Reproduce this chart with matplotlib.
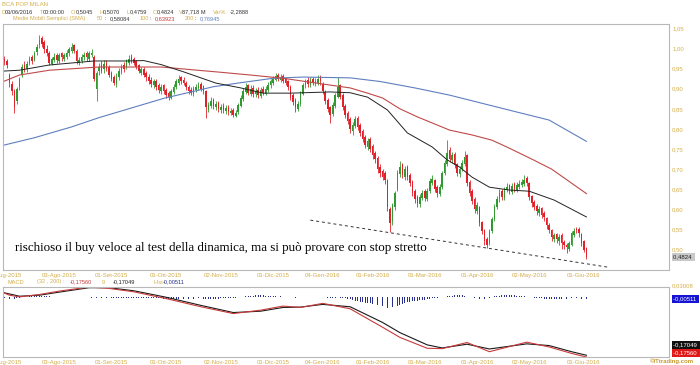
import numpy as np
import pandas as pd
import matplotlib
matplotlib.use("Agg")
import matplotlib.pyplot as plt

# BCA POP MILAN - giornaliero, dal 02/07/2015 al 03/06/2016
holidays = ["2015-12-24", "2015-12-25", "2015-12-31", "2016-01-01", "2016-03-25", "2016-03-28"]
days = pd.bdate_range("2015-07-02", "2016-06-03")
days = days[~days.isin(pd.to_datetime(holidays))]

opens = [0.975, 0.970, 0.935, 0.912, 0.895, 0.870, 0.905, 0.935, 0.960, 0.948,
         0.965, 0.978, 0.972, 0.992, 1.008, 1.025, 1.015, 1.000, 0.990, 0.962,
         0.972, 0.985, 0.970, 0.988, 0.975, 0.980, 0.988, 0.995, 1.008, 0.995,
         0.965, 0.970, 0.978, 0.990, 0.975, 0.985, 0.980, 0.900, 0.945, 0.958,
         0.948, 0.965, 0.955, 0.940, 0.928, 0.912, 0.928, 0.942, 0.958, 0.955,
         0.965, 0.980, 0.975, 0.968, 0.958, 0.940, 0.950, 0.938, 0.930, 0.922,
         0.910, 0.920, 0.910, 0.895, 0.908, 0.898, 0.890, 0.878, 0.892, 0.905,
         0.915, 0.928, 0.922, 0.915, 0.905, 0.898, 0.888, 0.898, 0.902, 0.912,
         0.905, 0.895, 0.848, 0.858, 0.872, 0.855, 0.865, 0.848, 0.858, 0.845,
         0.855, 0.840, 0.848, 0.832, 0.842, 0.858, 0.875, 0.892, 0.908, 0.888,
         0.902, 0.886, 0.898, 0.882, 0.900, 0.888, 0.898, 0.908, 0.915, 0.922,
         0.935, 0.922, 0.932, 0.925, 0.918, 0.905, 0.885, 0.872, 0.850, 0.862,
         0.888, 0.908, 0.922, 0.910, 0.925, 0.912, 0.915, 0.930, 0.912, 0.892,
         0.872, 0.855, 0.838, 0.858, 0.880, 0.908, 0.885, 0.858, 0.840, 0.825,
         0.795, 0.808, 0.828, 0.810, 0.795, 0.780, 0.755, 0.775, 0.758, 0.740,
         0.728, 0.705, 0.695, 0.690, 0.672, 0.600, 0.570, 0.605, 0.650, 0.688,
         0.712, 0.680, 0.705, 0.685, 0.668, 0.645, 0.630, 0.612, 0.628, 0.645,
         0.625, 0.645, 0.665, 0.672, 0.655, 0.638, 0.655, 0.690, 0.712, 0.748,
         0.722, 0.738, 0.712, 0.688, 0.700, 0.712, 0.735, 0.668, 0.645, 0.625,
         0.595, 0.605, 0.568, 0.548, 0.525, 0.515, 0.545, 0.575, 0.605, 0.625,
         0.645, 0.628, 0.648, 0.660, 0.642, 0.662, 0.648, 0.655, 0.660, 0.662,
         0.678, 0.665, 0.632, 0.618, 0.608, 0.590, 0.602, 0.590, 0.578, 0.562,
         0.548, 0.525, 0.538, 0.520, 0.535, 0.518, 0.512, 0.502, 0.512, 0.535,
         0.550, 0.552, 0.538, 0.520, 0.5045]
highs = [0.982, 0.975, 0.940, 0.920, 0.900, 0.905, 0.930, 0.962, 0.968, 0.968,
         0.982, 0.985, 0.995, 1.012, 1.034, 1.030, 1.020, 1.008, 0.995, 0.980,
         0.988, 0.990, 0.990, 0.992, 0.990, 0.996, 1.005, 1.014, 1.012, 1.000,
         0.980, 0.986, 0.992, 0.995, 0.994, 0.998, 0.985, 0.945, 0.965, 0.968,
         0.972, 0.972, 0.960, 0.945, 0.935, 0.938, 0.952, 0.962, 0.966, 0.975,
         0.984, 0.986, 0.980, 0.972, 0.962, 0.955, 0.955, 0.944, 0.936, 0.928,
         0.925, 0.925, 0.915, 0.912, 0.912, 0.903, 0.895, 0.900, 0.912, 0.925,
         0.934, 0.932, 0.928, 0.920, 0.910, 0.905, 0.906, 0.912, 0.917, 0.916,
         0.910, 0.898, 0.868, 0.880, 0.878, 0.870, 0.870, 0.862, 0.864, 0.860,
         0.860, 0.852, 0.852, 0.846, 0.865, 0.884, 0.902, 0.914, 0.912, 0.908,
         0.908, 0.902, 0.904, 0.905, 0.906, 0.906, 0.916, 0.925, 0.932, 0.940,
         0.940, 0.936, 0.936, 0.930, 0.922, 0.908, 0.890, 0.876, 0.870, 0.895,
         0.915, 0.925, 0.928, 0.930, 0.930, 0.926, 0.933, 0.934, 0.916, 0.896,
         0.876, 0.858, 0.866, 0.890, 0.930, 0.912, 0.890, 0.862, 0.845, 0.830,
         0.818, 0.832, 0.832, 0.815, 0.800, 0.785, 0.778, 0.780, 0.762, 0.745,
         0.732, 0.712, 0.700, 0.695, 0.675, 0.605, 0.615, 0.646, 0.698, 0.720,
         0.716, 0.708, 0.710, 0.690, 0.672, 0.650, 0.635, 0.638, 0.648, 0.650,
         0.652, 0.678, 0.685, 0.676, 0.660, 0.662, 0.696, 0.722, 0.772, 0.755,
         0.742, 0.742, 0.716, 0.708, 0.722, 0.745, 0.738, 0.672, 0.650, 0.630,
         0.618, 0.608, 0.572, 0.552, 0.530, 0.550, 0.580, 0.612, 0.632, 0.650,
         0.650, 0.656, 0.665, 0.664, 0.665, 0.668, 0.668, 0.672, 0.675, 0.685,
         0.684, 0.668, 0.636, 0.622, 0.612, 0.608, 0.606, 0.595, 0.582, 0.566,
         0.552, 0.542, 0.542, 0.538, 0.540, 0.524, 0.516, 0.522, 0.546, 0.553,
         0.555, 0.556, 0.540, 0.524, 0.5070]
lows = [0.960, 0.952, 0.905, 0.885, 0.840, 0.862, 0.898, 0.930, 0.942, 0.942,
        0.958, 0.962, 0.968, 0.985, 1.002, 1.005, 0.990, 0.982, 0.958, 0.958,
        0.966, 0.965, 0.965, 0.970, 0.970, 0.975, 0.982, 0.990, 0.988, 0.962,
        0.958, 0.965, 0.972, 0.970, 0.970, 0.980, 0.918, 0.870, 0.935, 0.938,
        0.940, 0.944, 0.928, 0.918, 0.908, 0.905, 0.922, 0.936, 0.942, 0.950,
        0.960, 0.965, 0.958, 0.948, 0.938, 0.934, 0.928, 0.920, 0.912, 0.905,
        0.903, 0.898, 0.890, 0.888, 0.886, 0.878, 0.872, 0.874, 0.888, 0.900,
        0.910, 0.912, 0.908, 0.898, 0.888, 0.884, 0.882, 0.892, 0.896, 0.894,
        0.888, 0.827, 0.842, 0.852, 0.850, 0.848, 0.843, 0.840, 0.840, 0.838,
        0.835, 0.834, 0.830, 0.830, 0.838, 0.854, 0.870, 0.888, 0.884, 0.882,
        0.880, 0.880, 0.878, 0.878, 0.884, 0.884, 0.893, 0.903, 0.910, 0.918,
        0.920, 0.916, 0.914, 0.908, 0.898, 0.872, 0.860, 0.842, 0.845, 0.858,
        0.884, 0.902, 0.905, 0.905, 0.908, 0.906, 0.910, 0.910, 0.888, 0.862,
        0.842, 0.815, 0.832, 0.852, 0.876, 0.874, 0.848, 0.828, 0.812, 0.790,
        0.785, 0.802, 0.798, 0.782, 0.768, 0.752, 0.748, 0.742, 0.725, 0.715,
        0.690, 0.680, 0.672, 0.662, 0.595, 0.543, 0.560, 0.598, 0.645, 0.680,
        0.678, 0.674, 0.672, 0.658, 0.632, 0.615, 0.605, 0.606, 0.622, 0.620,
        0.620, 0.640, 0.660, 0.642, 0.630, 0.632, 0.650, 0.685, 0.708, 0.718,
        0.715, 0.702, 0.682, 0.680, 0.695, 0.708, 0.658, 0.632, 0.612, 0.590,
        0.588, 0.558, 0.538, 0.512, 0.504, 0.510, 0.540, 0.570, 0.600, 0.618,
        0.622, 0.624, 0.642, 0.638, 0.638, 0.644, 0.643, 0.650, 0.655, 0.658,
        0.658, 0.622, 0.606, 0.598, 0.585, 0.584, 0.578, 0.570, 0.552, 0.540,
        0.520, 0.518, 0.515, 0.512, 0.500, 0.500, 0.492, 0.496, 0.508, 0.530,
        0.540, 0.532, 0.508, 0.494, 0.4759]
closes = [0.968, 0.960, 0.915, 0.895, 0.855, 0.900, 0.925, 0.955, 0.950, 0.962,
          0.975, 0.970, 0.990, 1.005, 1.020, 1.012, 0.998, 0.990, 0.965, 0.975,
          0.980, 0.972, 0.985, 0.978, 0.983, 0.990, 0.998, 1.005, 0.995, 0.968,
          0.972, 0.980, 0.985, 0.978, 0.988, 0.990, 0.925, 0.938, 0.955, 0.945,
          0.962, 0.950, 0.935, 0.925, 0.915, 0.930, 0.945, 0.955, 0.950, 0.968,
          0.975, 0.972, 0.965, 0.955, 0.945, 0.948, 0.935, 0.928, 0.920, 0.912,
          0.918, 0.905, 0.898, 0.905, 0.895, 0.885, 0.880, 0.895, 0.905, 0.918,
          0.925, 0.920, 0.915, 0.905, 0.895, 0.890, 0.900, 0.905, 0.910, 0.900,
          0.895, 0.855, 0.860, 0.870, 0.858, 0.862, 0.850, 0.855, 0.848, 0.852,
          0.842, 0.845, 0.835, 0.840, 0.860, 0.878, 0.895, 0.905, 0.890, 0.900,
          0.888, 0.895, 0.885, 0.898, 0.890, 0.900, 0.910, 0.918, 0.925, 0.932,
          0.925, 0.930, 0.920, 0.915, 0.905, 0.880, 0.868, 0.855, 0.862, 0.890,
          0.910, 0.918, 0.912, 0.922, 0.915, 0.920, 0.925, 0.918, 0.895, 0.870,
          0.850, 0.835, 0.860, 0.885, 0.905, 0.880, 0.855, 0.835, 0.820, 0.800,
          0.810, 0.825, 0.805, 0.790, 0.775, 0.760, 0.770, 0.750, 0.735, 0.725,
          0.700, 0.690, 0.680, 0.672, 0.605, 0.565, 0.610, 0.640, 0.690, 0.705,
          0.685, 0.700, 0.680, 0.665, 0.640, 0.625, 0.615, 0.630, 0.640, 0.628,
          0.645, 0.670, 0.675, 0.650, 0.640, 0.655, 0.690, 0.715, 0.740, 0.725,
          0.735, 0.710, 0.690, 0.700, 0.715, 0.730, 0.665, 0.640, 0.620, 0.600,
          0.610, 0.565, 0.545, 0.520, 0.512, 0.545, 0.575, 0.605, 0.625, 0.640,
          0.630, 0.650, 0.655, 0.645, 0.658, 0.650, 0.660, 0.662, 0.668, 0.672,
          0.665, 0.630, 0.615, 0.605, 0.595, 0.600, 0.585, 0.580, 0.560, 0.548,
          0.530, 0.535, 0.525, 0.530, 0.515, 0.510, 0.505, 0.515, 0.540, 0.545,
          0.548, 0.540, 0.515, 0.500, 0.4824]

# medie mobili (punti letti lungo le curve, indice = giorno)
sma50_day = [0, 6, 18, 36, 49, 56, 63, 72, 85, 95, 104, 115, 131, 139, 146, 154, 162,
             172, 178, 183, 188, 195, 203, 211, 221, 234]
sma50 = [0.944, 0.946, 0.959, 0.969, 0.969, 0.970, 0.960, 0.942, 0.914, 0.902, 0.889,
         0.889, 0.892, 0.890, 0.879, 0.847, 0.790, 0.755, 0.723, 0.705, 0.680, 0.655,
         0.648, 0.645, 0.623, 0.581]
sma100_day = [0, 6, 18, 38, 63, 85, 99, 112, 131, 139, 146, 152, 159, 166, 179, 188,
              196, 202, 212, 220, 234]
sma100 = [0.919, 0.934, 0.946, 0.954, 0.954, 0.942, 0.934, 0.926, 0.909, 0.902, 0.889,
          0.877, 0.850, 0.830, 0.797, 0.785, 0.772, 0.755, 0.725, 0.700, 0.639]
sma200_day = [0, 12, 27, 38, 64, 84, 95, 108, 120, 139, 151, 165, 179, 206, 219, 234]
sma200 = [0.760, 0.778, 0.805, 0.828, 0.876, 0.905, 0.915, 0.926, 0.929, 0.927, 0.918,
          0.902, 0.884, 0.842, 0.822, 0.769]

# trendline tratteggiata (giorno, prezzo)
trend_day = [123, 242.7]
trend_px = [0.573, 0.456]

# MACD (32,200) e segnale 9
macd_day = [0, 2, 6, 14, 22, 34, 42, 52, 65, 79, 92, 103, 112, 119, 128, 139, 152, 159,
            170, 176, 186, 195, 210, 219, 228, 234]
macd = [0.012, 0.006, 0.001, 0.008, 0.018, 0.030, 0.026, 0.016, -0.004, -0.028, -0.048,
        -0.038, -0.026, -0.030, -0.018, -0.034, -0.088, -0.118, -0.150, -0.151, -0.133,
        -0.160, -0.132, -0.146, -0.165, -0.1756]
signal_day = [0, 6, 14, 22, 34, 42, 52, 65, 79, 92, 103, 112, 119, 128, 139, 152, 159,
              170, 176, 186, 195, 210, 219, 228, 234]
signal = [0.013, 0.003, 0.006, 0.015, 0.028, 0.028, 0.019, 0.000, -0.024, -0.045, -0.041,
          -0.030, -0.029, -0.021, -0.028, -0.074, -0.104, -0.140, -0.149, -0.138, -0.152,
          -0.137, -0.142, -0.160, -0.1705]
hist = [-0.003, -0.004, -0.005, -0.006, -0.005, -0.003, -0.001, 0.001, 0.002,
        0.002, 0.003, 0.003, 0.004, 0.004, 0.005, 0.004, 0.004, 0.003, 0.003, 0.002, 0.002, 0.002,
        0.002, 0.002, 0.002, 0.002, 0.002, 0.002, 0.002, 0.002, 0.002, 0.001, 0.001, 0.001, 0.000,
        -0.001, -0.003, -0.003, -0.002, -0.002, -0.002, -0.002, -0.002, -0.002, -0.002, -0.002,
        -0.001, -0.001, -0.001, -0.001, -0.001, -0.001, -0.002, -0.002, -0.002, -0.002, -0.002,
        -0.003, -0.003, -0.003, -0.003, -0.003, -0.003, -0.003, -0.004, -0.004,
        -0.004, -0.005, -0.005, -0.005, -0.005, -0.005, -0.004, -0.004, -0.004, -0.004, -0.004,
        -0.003, -0.003, -0.004, -0.004,
        -0.005, -0.005, -0.005, -0.004, -0.004, -0.004, -0.003, -0.003, -0.003, -0.002, -0.002,
        -0.002,
        -0.001, 0.000, 0.001, 0.002, 0.003, 0.004, 0.005, 0.005, 0.006, 0.006, 0.006, 0.006,
        0.005, 0.005, 0.005, 0.004, 0.004, 0.004, 0.003, 0.003,
        0.002, 0.001, 0.000, -0.001, -0.001, -0.001, 0.000, 0.000,
        0.001, 0.001, 0.002, 0.002, 0.002, 0.002, 0.002, 0.001, 0.000, -0.001, -0.002, -0.002,
        -0.001, 0.000, -0.001, -0.002, -0.003, -0.004,
        -0.006, -0.008, -0.010, -0.012, -0.014, -0.015, -0.016, -0.017, -0.018, -0.019, -0.021,
        -0.023, -0.025, -0.027, -0.029, -0.031, -0.031, -0.030, -0.028, -0.025,
        -0.022, -0.019, -0.017, -0.015, -0.013, -0.012, -0.011, -0.010, -0.009, -0.008, -0.007,
        -0.005, -0.004,
        -0.003, -0.002, -0.001, 0.000, 0.001, 0.002,
        0.003, 0.004, 0.005, 0.006, 0.007, 0.007, 0.006, 0.005, 0.004, 0.002,
        0.000, -0.002, -0.003, -0.004, -0.005, -0.004, -0.003,
        -0.001, 0.001, 0.003, 0.004, 0.005, 0.006, 0.007, 0.007, 0.007, 0.006, 0.006, 0.005,
        0.005, 0.004, 0.003, 0.002, 0.001,
        0.000, -0.001, -0.002, -0.003, -0.003, -0.004, -0.004, -0.005, -0.005, -0.005, -0.005,
        -0.005, -0.004, -0.004, -0.004, -0.003, -0.003, -0.003, -0.003, -0.004, -0.004, -0.005,
        -0.00511]

tick_dates = ["2015-07-01", "2015-08-03", "2015-09-01", "2015-10-01", "2015-11-02", "2015-12-01",
              "2016-01-04", "2016-02-01", "2016-03-01", "2016-04-01", "2016-05-02", "2016-06-01"]
tick_text = ["01-Lug-2015", "03-Ago-2015", "01-Set-2015", "01-Ott-2015", "02-Nov-2015",
             "01-Dic-2015", "04-Gen-2016", "01-Feb-2016", "01-Mar-2016", "01-Apr-2016",
             "02-May-2016", "01-Giu-2016"]

GOLD = "#d4ae4c"
GREEN = "#2f9a2f"
RED = "#e3202a"
EDGE = "#b8b8b8"
plt.rcParams["font.family"] = ["Liberation Sans", "DejaVu Sans"]

W, H = 700, 365
fig = plt.figure(figsize=(W / 100, H / 100), dpi=100)


def px_axes(l, t, r, b):
    return fig.add_axes([l / W, 1 - b / H, (r - l) / W, (b - t) / H])


def px_text(x, y, s, color, **kw):
    kw.setdefault("fontsize", 4.3)
    fig.text(x / W, 1 - y / H, s, color=color, va="center", ha="left", **kw)


ax = px_axes(3, 24, 669, 270)
ax2 = px_axes(3, 287, 669, 357)

x = np.arange(len(closes))
o = np.array(opens)
c = np.array(closes)
col = np.where(c >= o, GREEN, RED)
ax.vlines(x, lows, highs, colors=col, linewidth=0.6, zorder=2)
ax.bar(x, np.maximum(np.abs(c - o), 0.002), bottom=np.minimum(o, c), width=0.65,
       color=col, linewidth=0, zorder=3)

ax.plot(sma200_day, sma200, color="#5f7fbf", lw=0.8, zorder=4)
ax.plot(sma100_day, sma100, color="#bf4a4a", lw=0.8, zorder=4)
ax.plot(sma50_day, sma50, color="#222222", lw=0.7, zorder=4)
ax.plot(trend_day, trend_px, color="#333333", lw=0.7, ls=(0, (3, 3)), zorder=4)

tick_pos = [days.searchsorted(pd.Timestamp(d)) for d in tick_dates]

for a in (ax, ax2):
    a.set_xlim(-0.6, 267.2)
    for s in a.spines.values():
        s.set_color(EDGE)
        s.set_linewidth(0.8)
    a.set_xticks(tick_pos)
    a.set_xticklabels(tick_text)
    a.tick_params(axis="x", length=0, pad=2.2, labelsize=4.3, labelcolor=GOLD)

ax.set_ylim(0.449, 1.061)
yt = np.arange(0.50, 1.051, 0.05)
ax.yaxis.tick_right()
ax.set_yticks(yt)
ax.set_yticklabels([f"{v:.2f}".replace(".", ",") for v in yt])
ax.tick_params(axis="y", length=0, pad=2.2, labelsize=4.3, labelcolor=GOLD)

# pannello MACD
ax2.bar(x, hist, width=0.35, color="#27308f", linewidth=0)
ax2.plot(signal_day, signal, color="#1a1a1a", lw=0.8)
ax2.plot(macd_day, macd, color="#c83a3a", lw=0.8)
ax2.set_ylim(-0.1756, 0.03008)
ax2.set_yticks([])

# intestazioni
px_text(2, 4.5, "BCA POP MILAN", GOLD)
header = [(1, "D", GOLD), (5, "03/06/2016", "#333333"), (39.5, "T", GOLD), (42.5, "00:00:00", "#333333"),
          (71, "O", GOLD), (75.5, "0,5045", "#333333"), (99, "H", GOLD), (102.5, "0,5070", "#333333"),
          (126.5, "L", GOLD), (130, "0,4759", "#333333"), (153, "C", GOLD), (157, "0,4824", "#333333"),
          (179, "V", GOLD), (182.5, "87,718 M", "#333333"), (213, "Var%", GOLD), (230, "-2,2888", "#333333")]
for hx, s, cl in header:
    px_text(hx, 12, s, cl, fontsize=4.1)
sma_head = [(13, "Medie Mobili Semplici (SMA)", GOLD), (97, "50", GOLD), (104, ":", "#333333"),
            (110, "0,58084", "#333333"), (140, "100", GOLD), (149, ":", "#333333"),
            (155, "0,63923", "#c83a3a"), (185, "200", GOLD), (194, ":", "#333333"),
            (200, "0,76945", "#5f7fbf")]
for hx, s, cl in sma_head:
    px_text(hx, 18.5, s, cl, fontsize=4.1)
macd_head = [(8, "MACD", GOLD), (37, "(32 , 200) :", GOLD), (70, "-0,17560", "#c83a3a"),
             (102, "9", GOLD), (113, "-0,17049", "#222222"), (153, "Hist", GOLD),
             (163, "-0,00511", "#27308f")]
for hx, s, cl in macd_head:
    px_text(hx, 282, s, cl, fontsize=4.1)

# etichette sul bordo destro
px_text(673, 257, "0,4824 ", "#222222", bbox=dict(boxstyle="square,pad=0.25", fc="#c9c9c9", ec="none"))
px_text(672, 286, "0,03008", GOLD)
px_text(673, 299, "-0,00511 ", "white", bbox=dict(boxstyle="square,pad=0.25", fc="#1414d2", ec="none"))
px_text(673, 345, "-0,17049 ", "white", bbox=dict(boxstyle="square,pad=0.25", fc="#111111", ec="none"))
px_text(673, 353, "-0,17560 ", "white", bbox=dict(boxstyle="square,pad=0.25", fc="#e01818", ec="none"))
px_text(650, 361, "\u00a9ITtrading.com", "#c89a30", fontweight="bold")

fig.text(15 / W, 1 - 248 / H,
         "rischioso il buy veloce al test della dinamica, ma si può provare con stop stretto",
         family=["Liberation Serif", "DejaVu Serif"], fontsize=9.35, color="black",
         va="center", ha="left")

fig.savefig("out.png", dpi=100)
